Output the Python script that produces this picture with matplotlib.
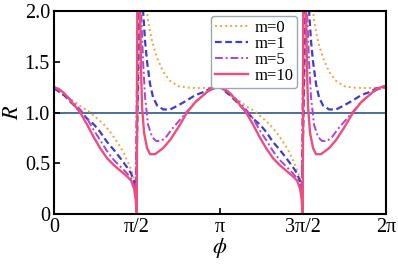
import numpy as np
import matplotlib.pyplot as plt

# valores, phi en unidades de pi
phi_m0 = [0.000, 0.060, 0.120, 0.169, 0.211, 0.253, 0.301, 0.337, 0.380, 0.410, 0.440, 0.458, 0.476, 0.491,
          0.542, 0.554, 0.566, 0.590, 0.620, 0.657, 0.699, 0.747, 0.801, 0.880, 0.940, 1.000,
          1.060, 1.120, 1.169, 1.211, 1.253, 1.301, 1.337, 1.380, 1.410, 1.440, 1.458, 1.476, 1.491,
          1.542, 1.554, 1.566, 1.590, 1.620, 1.657, 1.699, 1.747, 1.801, 1.880, 1.940, 2.000]
R_m0 = [1.23, 1.17, 1.11, 1.05, 1.01, 0.95, 0.88, 0.81, 0.71, 0.63, 0.53, 0.46, 0.38, 0.28,
        3.00, 2.10, 1.90, 1.70, 1.54, 1.40, 1.31, 1.26, 1.245, 1.24, 1.245, 1.25,
        1.17, 1.11, 1.05, 1.01, 0.95, 0.88, 0.81, 0.71, 0.63, 0.53, 0.46, 0.38, 0.28,
        3.00, 2.10, 1.90, 1.70, 1.54, 1.40, 1.31, 1.26, 1.245, 1.24, 1.245, 1.24]

phi_m1 = [0.000, 0.060, 0.120, 0.169, 0.205, 0.241, 0.277, 0.319, 0.361, 0.404, 0.440, 0.464, 0.482, 0.494,
          0.524, 0.536, 0.548, 0.560, 0.578, 0.596, 0.620, 0.657, 0.699, 0.747, 0.801, 0.849, 0.898, 0.946, 1.000,
          1.060, 1.120, 1.169, 1.205, 1.241, 1.277, 1.319, 1.361, 1.404, 1.440, 1.464, 1.482, 1.494,
          1.524, 1.536, 1.548, 1.560, 1.578, 1.596, 1.620, 1.657, 1.699, 1.747, 1.801, 1.849, 1.898, 1.946, 2.000]
R_m1 = [1.24, 1.17, 1.07, 0.99, 0.93, 0.88, 0.81, 0.71, 0.63, 0.54, 0.46, 0.40, 0.32, 0.22,
        3.00, 2.00, 1.70, 1.50, 1.28, 1.15, 1.07, 1.03, 1.03, 1.07, 1.12, 1.17, 1.20, 1.24, 1.25,
        1.17, 1.07, 0.99, 0.93, 0.88, 0.81, 0.71, 0.63, 0.54, 0.46, 0.40, 0.32, 0.22,
        3.00, 2.00, 1.70, 1.50, 1.28, 1.15, 1.07, 1.03, 1.03, 1.07, 1.12, 1.17, 1.20, 1.24, 1.25]

phi_m5 = [0.000, 0.060, 0.108, 0.157, 0.199, 0.241, 0.277, 0.319, 0.361, 0.404, 0.440, 0.464, 0.482, 0.491,
          0.509, 0.524, 0.536, 0.548, 0.566, 0.590, 0.614, 0.645, 0.675, 0.711, 0.759, 0.801, 0.849, 0.898, 0.940, 0.988, 1.000,
          1.060, 1.108, 1.157, 1.199, 1.241, 1.277, 1.319, 1.361, 1.404, 1.440, 1.464, 1.482, 1.491,
          1.509, 1.524, 1.536, 1.548, 1.566, 1.590, 1.614, 1.645, 1.675, 1.711, 1.759, 1.801, 1.849, 1.898, 1.940, 1.988, 2.000]
R_m5 = [1.25, 1.19, 1.11, 1.03, 0.94, 0.82, 0.73, 0.62, 0.53, 0.46, 0.40, 0.35, 0.28, 0.20,
        3.00, 2.00, 1.50, 1.15, 0.88, 0.76, 0.72, 0.72, 0.76, 0.84, 0.93, 1.01, 1.10, 1.17, 1.22, 1.25, 1.25,
        1.19, 1.11, 1.03, 0.94, 0.82, 0.73, 0.62, 0.53, 0.46, 0.40, 0.35, 0.28, 0.20,
        3.00, 2.00, 1.50, 1.15, 0.88, 0.76, 0.72, 0.72, 0.76, 0.84, 0.93, 1.01, 1.10, 1.17, 1.22, 1.25, 1.25]

phi_m10 = [0.000, 0.030, 0.060, 0.108, 0.157, 0.199, 0.241, 0.277, 0.319, 0.361, 0.404, 0.440, 0.464, 0.482, 0.491, 0.498,
           0.503, 0.509, 0.518, 0.524, 0.530, 0.542, 0.560, 0.578, 0.608, 0.657, 0.699, 0.747, 0.801, 0.849, 0.898, 0.940, 0.988, 1.010,
           1.030, 1.060, 1.108, 1.157, 1.199, 1.241, 1.277, 1.319, 1.361, 1.404, 1.440, 1.464, 1.482, 1.491, 1.498,
           1.503, 1.509, 1.518, 1.524, 1.530, 1.542, 1.560, 1.578, 1.608, 1.657, 1.699, 1.747, 1.801, 1.849, 1.898, 1.940, 1.988, 2.000]
R_m10 = [1.25, 1.23, 1.19, 1.10, 1.00, 0.88, 0.75, 0.65, 0.55, 0.48, 0.42, 0.37, 0.33, 0.25, 0.15, 0.00,
         3.00, 3.00, 2.00, 1.40, 1.05, 0.80, 0.65, 0.59, 0.59, 0.65, 0.73, 0.85, 1.00, 1.10, 1.17, 1.23, 1.26, 1.26,
         1.23, 1.19, 1.10, 1.00, 0.88, 0.75, 0.65, 0.55, 0.48, 0.42, 0.37, 0.33, 0.25, 0.15, 0.00,
         3.00, 3.00, 2.00, 1.40, 1.05, 0.80, 0.65, 0.59, 0.59, 0.65, 0.73, 0.85, 1.00, 1.10, 1.17, 1.23, 1.26, 1.25]

xticks_lbl = ['0', 'π/2', 'π', '3π/2', '2π']
yticks_lbl = ['0', '0.5', '1.0', '1.5', '2.0']

plt.rcParams['font.family'] = ['Liberation Serif', 'DejaVu Serif']
plt.rcParams['mathtext.fontset'] = 'stix'

fig = plt.figure(figsize=(3.98, 2.66), dpi=100)
ax = fig.add_axes([0.136, 0.195, 0.834, 0.764])

ax.axhline(1.0, color='#2e5784', lw=1.2, zorder=1)
ax.plot(np.array(phi_m0) * np.pi, R_m0, ls=(0, (1, 1.6)), color='#f5a04a', lw=1.4, label='m=0')
ax.plot(np.array(phi_m1) * np.pi, R_m1, ls=(0, (3, 1.6)), color='#3d3dc8', lw=1.6, label='m=1')
ax.plot(np.array(phi_m5) * np.pi, R_m5, ls=(0, (4, 1.5, 1, 1.5)), color='#a646dc', lw=1.4, label='m=5')
ax.plot(np.array(phi_m10) * np.pi, R_m10, ls='-', color='#f04d7c', lw=1.7, label='m=10')

ax.set_xlim(0, 2 * np.pi)
ax.set_ylim(0, 2)
ax.set_xticks(np.arange(5) * np.pi / 2)
ax.set_xticklabels(xticks_lbl)
ax.set_yticks([0, 0.5, 1.0, 1.5, 2.0])
ax.set_yticklabels(yticks_lbl)
ax.tick_params(direction='in', labelsize=14.5, width=1.2, length=4, pad=3)
for s in ax.spines.values():
    s.set_linewidth(1.5)
ax.set_xlabel(r'$\phi$', fontsize=16, labelpad=-1)
ax.set_ylabel(r'$R$', fontsize=16, labelpad=1)

ax.legend(loc='upper right', bbox_to_anchor=(0.733, 0.975), fontsize=12, handlelength=2.0,
          labelspacing=0.0, borderpad=0.25, handletextpad=0.35, borderaxespad=0,
          edgecolor='#9aa8b0', framealpha=1, fancybox=True)

fig.savefig('out.png', dpi=100)
